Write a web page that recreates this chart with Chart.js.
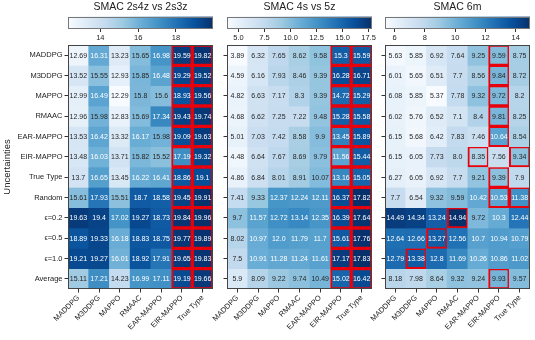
<!DOCTYPE html>
<html>
<head>
<script src="https://cdn.jsdelivr.net/npm/chart.js@4.4.0/dist/chart.umd.min.js"></script>
<style>
  body { margin: 0; background: #fff; }
  #wrap { position: relative; width: 535px; height: 340px; overflow: hidden; }
  #wrap canvas { position: absolute; }
</style>
</head>
<body>
<div id="wrap"></div>
<script>
// DATA

const methods = ["MADDPG", "M3DDPG", "MAPPO", "RMAAC", "EAR-MAPPO", "EIR-MAPPO", "True Type"];
const uncertainties = ["MADDPG", "M3DDPG", "MAPPO", "RMAAC", "EAR-MAPPO", "EIR-MAPPO",
  "True Type", "Random", "\u03f5=0.2", "\u03f5=0.5", "\u03f5=1.0", "Average"];

const titles = ["SMAC 2s4z vs 2s3z", "SMAC 4s vs 5z", "SMAC 6m"];

const values2s4z = [
  [12.69, 16.31, 13.23, 15.65, 16.98, 19.59, 19.82],
  [13.52, 15.55, 12.93, 15.85, 16.48, 19.29, 19.52],
  [12.99, 16.49, 12.29, 15.8, 15.6, 18.93, 19.56],
  [12.96, 15.98, 12.83, 15.69, 17.34, 19.43, 19.74],
  [13.53, 16.42, 13.32, 16.17, 15.98, 19.09, 19.63],
  [13.48, 16.03, 13.71, 15.82, 15.52, 17.19, 19.32],
  [13.7, 16.65, 13.45, 16.22, 16.41, 18.86, 19.1],
  [15.61, 17.93, 15.51, 18.7, 18.58, 19.45, 19.91],
  [19.63, 19.4, 17.02, 19.27, 18.73, 19.84, 19.96],
  [18.89, 19.33, 16.18, 18.83, 18.75, 19.77, 19.89],
  [19.21, 19.27, 16.01, 18.92, 17.91, 19.65, 19.83],
  [15.11, 17.21, 14.23, 16.99, 17.11, 19.19, 19.66]
];
const values4s = [
  [3.89, 6.32, 7.65, 8.62, 9.58, 15.3, 15.59],
  [4.59, 6.16, 7.93, 8.46, 9.39, 16.28, 16.71],
  [4.82, 6.63, 7.17, 8.3, 9.39, 14.72, 15.29],
  [4.68, 6.62, 7.25, 7.22, 9.48, 15.28, 15.58],
  [5.01, 7.03, 7.42, 8.58, 9.9, 13.45, 15.89],
  [4.48, 6.64, 7.67, 8.69, 9.79, 11.56, 15.44],
  [4.86, 6.84, 8.01, 8.91, 10.07, 13.16, 15.05],
  [7.41, 9.33, 12.37, 12.24, 12.11, 16.37, 17.82],
  [9.7, 11.57, 12.72, 13.14, 12.35, 16.39, 17.64],
  [8.02, 10.97, 12.0, 11.79, 11.7, 15.61, 17.76],
  [7.5, 10.91, 11.28, 11.24, 11.61, 17.17, 17.83],
  [5.9, 8.09, 9.22, 9.74, 10.49, 15.02, 16.42]
];
const values6m = [
  [5.63, 5.85, 6.92, 7.64, 9.25, 9.59, 8.75],
  [6.01, 5.65, 6.51, 7.7, 8.56, 9.84, 8.72],
  [6.08, 5.85, 5.37, 7.78, 9.32, 9.72, 8.2],
  [6.02, 5.76, 6.52, 7.1, 8.4, 9.81, 8.25],
  [6.15, 5.68, 6.42, 7.83, 7.46, 10.64, 8.54],
  [6.15, 6.05, 7.73, 8.0, 8.35, 7.56, 9.34],
  [6.27, 6.05, 6.92, 7.7, 9.21, 9.39, 7.9],
  [7.7, 6.54, 9.32, 9.59, 10.42, 10.53, 11.38],
  [14.49, 14.34, 13.24, 14.94, 9.72, 10.3, 12.44],
  [12.64, 12.66, 13.27, 12.56, 10.7, 10.94, 10.79],
  [12.79, 13.38, 12.8, 11.69, 10.26, 10.86, 11.02],
  [8.18, 7.98, 8.64, 9.32, 9.24, 9.93, 9.57]
];

// boxed cells: column indices per row
const boxed2s4z = [[5, 6], [5, 6], [5, 6], [5, 6], [5, 6], [5, 6], [5, 6], [5, 6], [5, 6], [5, 6], [5, 6], [5, 6]];
const boxed4s = [[5, 6], [5, 6], [5, 6], [5, 6], [5, 6], [5, 6], [5, 6], [5, 6], [5, 6], [5, 6], [5, 6], [5, 6]];
const boxed6m = [[5], [5], [5], [5], [5], [4, 6], [5], [5, 6], [3], [2], [1], [5]];

// colorbar tick labels
const cbTicks2s4z = [14, 16, 18];
const cbTicks4s = [5.0, 7.5, 10.0, 12.5, 15.0, 17.5];
const cbTicks6m = [6, 8, 10, 12, 14];

// LAYOUT / STYLE

const FONT = "'Liberation Sans', Arial, 'DejaVu Sans', sans-serif";
const TXT = "#222";
const panels = [
  { title: titles[0], values: values2s4z, boxed: boxed2s4z, cbTicks: cbTicks2s4z, dec: 0, left: 68, yw: 68, padL: 0, labels: true },
  { title: titles[1], values: values4s, boxed: boxed4s, cbTicks: cbTicks4s, dec: 1, left: 227, yw: 12, padL: 14, labels: false },
  { title: titles[2], values: values6m, boxed: boxed6m, cbTicks: cbTicks6m, dec: 0, left: 385, yw: 12, padL: 14, labels: false }
];
const W = 145, TOP = 45, BOTTOM = 289;

// matplotlib "Blues"
const blues = ["#f7fbff", "#deebf7", "#c6dbef", "#9ecae1", "#6baed6", "#4292c6", "#2171b5", "#08519c", "#08306b"];
function hex(h) { return [1, 3, 5].map(i => parseInt(h.substr(i, 2), 16)); }
function bluesRGB(t) {
  t = Math.max(0, Math.min(1, t)) * (blues.length - 1);
  const i = Math.min(Math.floor(t), blues.length - 2), f = t - i;
  const a = hex(blues[i]), b = hex(blues[i + 1]);
  return a.map((c, k) => Math.round(c + (b[k] - c) * f));
}
function lum(rgb) {
  const l = rgb.map(c => { c /= 255; return c <= 0.03928 ? c / 12.92 : Math.pow((c + 0.055) / 1.055, 2.4); });
  return 0.2126 * l[0] + 0.7152 * l[1] + 0.0722 * l[2];
}
function fmt(v) { return Number.isInteger(v) ? v.toFixed(1) : String(v); }

const wrap = document.getElementById("wrap");
function addCanvas(left, top, w, h) {
  const c = document.createElement("canvas");
  c.width = w; c.height = h;
  c.style.left = left + "px"; c.style.top = top + "px";
  c.style.width = w + "px"; c.style.height = h + "px";
  wrap.appendChild(c);
  return c;
}

const framePlugin = {
  id: "frame",
  afterDraw(chart, args, opts) {
    const a = chart.chartArea, ctx = chart.ctx;
    ctx.save();
    ctx.strokeStyle = opts.color || "#444";
    ctx.lineWidth = 1;
    ctx.strokeRect(Math.round(a.left) + 0.5, Math.round(a.top) + 0.5, Math.round(a.right - a.left) - 1, Math.round(a.bottom - a.top) - 1);
    ctx.restore();
  }
};

panels.forEach(p => {
  const flat = p.values.flat();
  const vmin = Math.min(...flat), vmax = Math.max(...flat);
  const norm = v => (v - vmin) / (vmax - vmin);

  // colorbar
  const cb = addCanvas(p.left - 6, 0, W + 12, 46);
  new Chart(cb, {
    type: "bar",
    data: {
      labels: [""],
      datasets: [{
        data: [[vmin, vmax]],
        backgroundColor: ctx => {
          const a = ctx.chart.chartArea;
          if (!a) return blues[4];
          const g = ctx.chart.ctx.createLinearGradient(a.left, 0, a.right, 0);
          blues.forEach((c, i) => g.addColorStop(i / (blues.length - 1), c));
          return g;
        },
        borderWidth: 0,
        barPercentage: 1,
        categoryPercentage: 1
      }]
    },
    options: {
      indexAxis: "y",
      responsive: false,
      animation: false,
      events: [],
      layout: { padding: { left: 6, right: 6, top: 0, bottom: 0 } },
      plugins: {
        legend: { display: false },
        tooltip: { enabled: false },
        title: { display: true, text: p.title, color: TXT, font: { family: FONT, size: 10.5, weight: "normal" }, padding: { top: 1, bottom: 3 } },
        frame: { color: "#777" }
      },
      scales: {
        y: { display: false },
        x: {
          type: "linear", min: vmin, max: vmax,
          afterBuildTicks: s => { s.ticks = p.cbTicks.map(v => ({ value: v })); },
          afterFit: s => { s.height = 17; },
          ticks: { color: TXT, padding: 1, font: { family: FONT, size: 7.5 }, callback: v => v.toFixed(p.dec) },
          grid: { drawOnChartArea: false, tickLength: 3, color: "#333" },
          border: { display: false }
        }
      }
    },
    plugins: [framePlugin]
  });

  // heatmap
  const hw = p.padL + p.yw + W + 4;
  const hm = addCanvas(p.left - p.padL - p.yw, 0, hw, 340);
  const datasets = uncertainties.map((u, r) => ({
    label: u,
    data: methods.map(() => [r, r + 1]),
    backgroundColor: p.values[r].map(v => "rgb(" + bluesRGB(norm(v)).join(",") + ")"),
    borderColor: "#e8000b",
    borderWidth: methods.map((m, j) => p.boxed[r].includes(j) ? 2 : 0),
    borderSkipped: false,
    grouped: false,
    barPercentage: 1,
    categoryPercentage: 1
  }));

  const textPlugin = {
    id: "cellText",
    afterDatasetsDraw(chart) {
      const ctx = chart.ctx, xs = chart.scales.x, ys = chart.scales.y;
      ctx.save();
      ctx.font = "7px " + FONT;
      ctx.textAlign = "center";
      ctx.textBaseline = "middle";
      p.values.forEach((row, r) => row.forEach((v, j) => {
        ctx.fillStyle = lum(bluesRGB(norm(v))) > 0.403 ? "#262626" : "#ffffff";
        ctx.fillText(fmt(v), xs.getPixelForValue(j), ys.getPixelForValue(r + 0.5) + 0.5);
      }));
      ctx.restore();
    }
  };

  new Chart(hm, {
    type: "bar",
    data: { labels: methods, datasets: datasets },
    options: {
      responsive: false,
      animation: false,
      events: [],
      layout: { padding: { left: p.padL, right: 4, top: TOP, bottom: 0 } },
      plugins: { legend: { display: false }, tooltip: { enabled: false }, frame: { color: "#444" } },
      scales: {
        x: {
          type: "category",
          afterFit: s => { s.height = 340 - BOTTOM; },
          ticks: { autoSkip: false, minRotation: 45, maxRotation: 45, color: TXT, padding: 1, font: { family: FONT, size: 7.5 } },
          grid: { drawOnChartArea: false, offset: false, tickLength: 3.5, color: "#333" },
          border: { display: false }
        },
        y: {
          type: "linear", min: 0, max: 12, reverse: true,
          afterBuildTicks: s => { s.ticks = uncertainties.map((u, i) => ({ value: i + 0.5 })); },
          afterFit: s => { s.width = p.yw; },
          ticks: { display: p.labels, color: TXT, padding: 2, font: { family: FONT, size: 7.5 }, callback: v => uncertainties[Math.round(v - 0.5)] },
          grid: { drawOnChartArea: false, tickLength: 3.5, color: "#333" },
          border: { display: false },
          title: { display: p.labels, text: "Uncertainties", color: TXT, font: { family: FONT, size: 9.5 }, padding: { top: 2, bottom: 0 } }
        }
      }
    },
    plugins: [textPlugin, framePlugin]
  });
});
</script>
</body>
</html>
